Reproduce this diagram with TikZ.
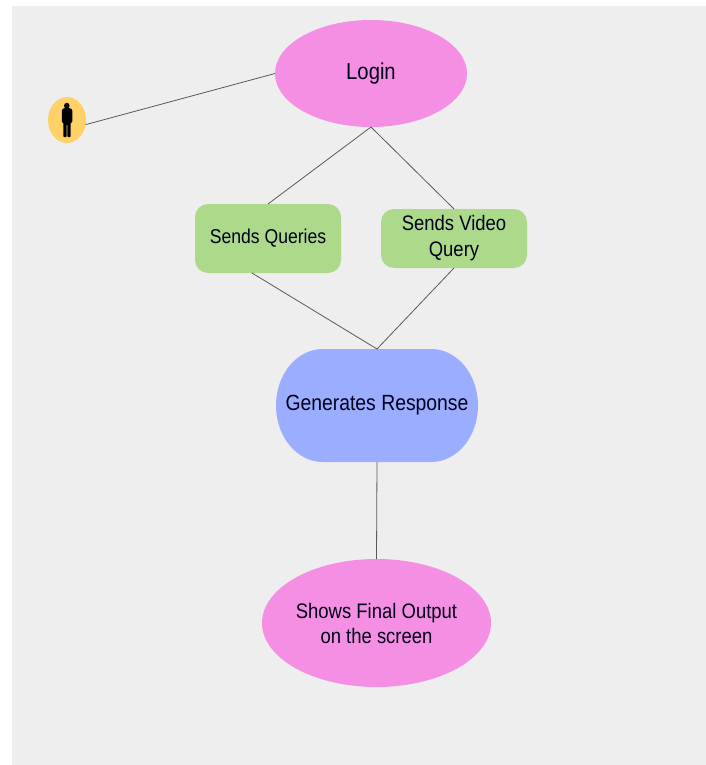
\documentclass[tikz,border=0pt]{standalone}
\usetikzlibrary{shapes.geometric}
\usepackage{fontspec}
\setmainfont[FakeStretch=0.88]{Liberation Sans}
\definecolor{panel}{HTML}{EEEEEE}
\definecolor{pinkc}{HTML}{F48FE3}
\definecolor{greenc}{HTML}{ACD98A}
\definecolor{bluec}{HTML}{9BADFF}
\definecolor{yellowc}{HTML}{FFD166}
\begin{document}
\begin{tikzpicture}[x=1pt,y=-1pt,
  every node/.style={inner sep=0pt,outer sep=0pt,align=center,text=black!90!blue},
  link/.style={draw=black!65,line width=0.8pt},
  pinkell/.style={shape=ellipse,fill=pinkc},
  greenbox/.style={shape=rectangle,fill=greenc,rounded corners=13pt},
  ]
\useasboundingbox (0,0) rectangle (706,765);
\fill[panel] (12,6) rectangle (706,765);
% Pill background of the response node
\fill[bluec] (323,349) -- (431,349)
  .. controls (457,349) and (478,374) .. (478,405.5)
  .. controls (478,437) and (457,462) .. (431,462)
  -- (323,462)
  .. controls (297,462) and (276,437) .. (276,405.5)
  .. controls (276,374) and (297,349) .. (323,349) -- cycle;
\node[pinkell,minimum width=192pt,minimum height=107pt,font=\fontsize{23}{26}\selectfont] (login) at (371,73.5) {Login};
\node[shape=ellipse,fill=yellowc,minimum width=38pt,minimum height=46pt] (user) at (67,120) {};
\node[greenbox,minimum width=146pt,minimum height=69pt,font=\fontsize{20}{26}\selectfont] (queries) at (268,238.5) {Sends Queries};
\node[greenbox,minimum width=146pt,minimum height=59pt,font=\fontsize{21}{26}\selectfont] (video) at (454,238.5) {Sends Video\\Query};
\node[minimum width=202pt,minimum height=113pt,font=\fontsize{22}{26}\selectfont] (resp) at (377,405.5) {Generates Response};
\node[pinkell,minimum width=229pt,minimum height=128pt,font=\fontsize{21}{25}\selectfont] (final) at (376.5,623) {Shows Final Output\\on the screen};
\coordinate (qout) at (252,273);
% person glyph
\fill[black] (66.8,105.7) circle (2.8);
\fill[black,rounded corners=1pt] (61.8,122.5) -- (61.8,110) -- (63.5,108.2) -- (70.5,108.2) -- (72.4,110) -- (72.4,122.5) -- (70.7,122.5) -- (70.7,137.2) -- (67.4,137.2) -- (67.4,124) -- (66.6,124) -- (66.6,137.2) -- (63.4,137.2) -- (63.4,122.5) -- cycle;
% connectors
\draw[link] (user.-14) -- (login.west);
\draw[link] (login.south) -- (queries.north);
\draw[link] (login.south) -- (video.north);
\draw[link] (qout) -- (resp.north);
\draw[link] (video.south) -- (resp.north);
\draw[link] (resp.south) -- (final.north);
\end{tikzpicture}
\end{document}
